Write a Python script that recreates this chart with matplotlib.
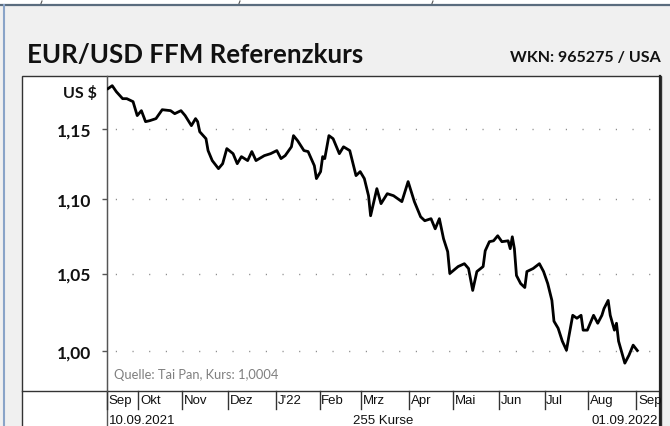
import matplotlib
matplotlib.use("Agg")
import matplotlib.pyplot as plt
import numpy as np
import pandas as pd
from matplotlib.patches import Rectangle
from matplotlib.lines import Line2D
from matplotlib.ticker import FixedLocator, NullLocator

# ---------------- data ----------------
title = "EUR/USD FFM Referenzkurs"
subtitle = "WKN: 965275 / USA"
source = "Quelle: Tai Pan, Kurs: 1,0004"
start_label = "10.09.2021"
end_label = "01.09.2022"
count_label = "255 Kurse"
n_quotes = 255

# trading-day number and EUR/USD reference rate
day = [0, 2, 4, 7, 9, 12, 14, 16, 18, 20, 23, 26, 30, 32, 35, 37, 40, 42, 43, 44,
       47, 48, 50, 53, 55, 57, 60, 62, 64, 67, 69, 71, 75, 78, 81, 83, 85, 88, 89, 91,
       94, 96, 99, 100, 102, 103, 104, 106, 108, 111, 113, 116, 119, 121, 123, 125, 126, 129, 131, 134,
       137, 141, 144, 147, 150, 152, 155, 157, 159, 161, 163, 164, 168, 171, 173, 175, 177, 180, 181, 183,
       185, 187, 189, 192, 193, 194, 195, 196, 198, 200, 201, 204, 207, 209, 211, 213, 214, 216, 218, 220,
       221, 223, 225, 227, 228, 230, 233, 235, 237, 238, 240, 241, 243, 244, 245, 248, 250, 252, 254]
rate = [1.1793, 1.1815, 1.1770, 1.1719, 1.1719, 1.1697, 1.1595, 1.1631, 1.1551, 1.1558,
        1.1573, 1.1638, 1.1631, 1.1609, 1.1631, 1.1595, 1.1522, 1.1573, 1.1551, 1.1478,
        1.1428, 1.1343, 1.1272, 1.1215, 1.1250, 1.1357, 1.1321, 1.1250, 1.1300, 1.1272,
        1.1336, 1.1272, 1.1307, 1.1321, 1.1343, 1.1286, 1.1307, 1.1370, 1.1450, 1.1413,
        1.1343, 1.1336, 1.1236, 1.1145, 1.1194, 1.1300, 1.1286, 1.1450, 1.1428, 1.1321,
        1.1370, 1.1343, 1.1166, 1.1194, 1.1145, 1.1026, 1.0888, 1.1075, 1.0971, 1.1040,
        1.1026, 1.0985, 1.1124, 1.0985, 1.0881, 1.0854, 1.0868, 1.0799, 1.0868, 1.0732,
        1.0645, 1.0500, 1.0546, 1.0565, 1.0533, 1.0389, 1.0513, 1.0546, 1.0651, 1.0712,
        1.0718, 1.0752, 1.0712, 1.0718, 1.0665, 1.0745, 1.0665, 1.0487, 1.0434, 1.0408,
        1.0513, 1.0533, 1.0565, 1.0513, 1.0434, 1.0324, 1.0190, 1.0145, 1.0063, 1.0006,
        1.0082, 1.0228, 1.0209, 1.0228, 1.0133, 1.0133, 1.0228, 1.0177, 1.0228, 1.0271,
        1.0324, 1.0228, 1.0133, 1.0177, 1.0063, 0.9925, 0.9975, 1.0038, 1.0004]

y_ticks = [1.00, 1.05, 1.10, 1.15]
y_tick_labels = ["1,00", "1,05", "1,10", "1,15"]
y_unit = "US $"
month_names = {1: "J'22", 2: "Feb", 3: "Mrz", 4: "Apr", 5: "Mai", 6: "Jun", 7: "Jul",
               8: "Aug", 9: "Sep", 10: "Okt", 11: "Nov", 12: "Dez"}

# ---------------- figure ----------------
W, H = 670, 427
fig = plt.figure(figsize=(W / 100, H / 100), dpi=100, facecolor="#f0f0f0")

# decoration layer in pixel coordinates
bg = fig.add_axes([0, 0, 1, 1], zorder=0)
bg.set_xlim(0, W)
bg.set_ylim(H, 0)
bg.axis("off")

# top strip from window above
bg.add_patch(Rectangle((0, 0), W, 5, facecolor="white", edgecolor="none"))
bg.add_line(Line2D([0, W], [5.5, 5.5], color="#5a6c7e", lw=1.6))
for xm in (42, 240, 433):
    bg.add_line(Line2D([xm, xm - 1], [2, 4.5], color="#555555", lw=0.8))
bg.add_line(Line2D([3.5, 3.5], [6, H], color="#8aa4c8", lw=1.5))

# white chart box
bg.add_patch(Rectangle((22, 77), 639, H - 77 + 5, facecolor="white",
                       edgecolor="#333333", lw=1.0))
bg.add_line(Line2D([22, 659], [392, 392], color="#333333", lw=1.0))
bg.add_line(Line2D([659.5, 659.5], [77, H], color="#222222", lw=1.6))
bg.add_line(Line2D([107, 107], [77, H], color="#555555", lw=1.0))

# titles
bg.text(27, 55, title, fontsize=18.6, fontweight="bold", family="Lato",
        ha="left", va="center", color="#111111")
bg.text(661, 58, subtitle, fontsize=11.5, fontweight="bold", family="Lato",
        ha="right", va="center", color="#111111")
bg.text(97, 93, y_unit, fontsize=11.5, fontweight="bold", family="Lato",
        ha="right", va="center", color="#111111")

# ---------------- plot area ----------------
x0, x1, y0, y1 = 107, 659, 77, 392
ax = fig.add_axes([x0 / W, 1 - y1 / H, (x1 - x0) / W, (y1 - y0) / H], zorder=2)
ax.patch.set_alpha(0)
ax.set_yscale("log")
ax.set_xlim(-0.5, 264.4)
ax.set_ylim(0.9753, 1.1887)
for s in ("top", "right", "bottom"):
    ax.spines[s].set_visible(False)
ax.spines["left"].set_color("#555555")
ax.yaxis.set_major_locator(FixedLocator(y_ticks))
ax.yaxis.set_minor_locator(NullLocator())
ax.set_yticklabels(y_tick_labels)
ax.tick_params(axis="y", length=3.5, width=1, color="#555555", pad=8)
for lab in ax.get_yticklabels():
    lab.set_fontfamily("Lato")
    lab.set_fontweight("bold")
    lab.set_fontsize(12.5)
    lab.set_color("#111111")
ax.set_xticks([])
for v in y_ticks:
    ax.axhline(v, color="#888888", lw=1.0, ls=(6, (0.8, 11.2)), zorder=1)

ax.plot(day, rate, color="black", lw=2.0, solid_joinstyle="round", zorder=3)

ax.text(0.012, 0.035, source, transform=ax.transAxes, fontsize=9.3,
        family="Lato", color="#7f7f7f", ha="left", va="bottom")

# month row from trading calendar
bdays = pd.bdate_range("2021-09-10", periods=n_quotes)
months = bdays.month
starts = [0] + [i for i in range(1, n_quotes) if months[i] != months[i - 1]]
tr = ax.get_xaxis_transform()
row_h = 18 / (y1 - y0)
for i in starts:
    ax.add_line(Line2D([i - 0.5, i - 0.5], [0, -row_h], transform=tr,
                       color="#333333", lw=1.0, clip_on=False))
    ax.text(i + 0.3, -row_h / 2, month_names[months[i]], transform=tr,
            fontsize=9.5, family=["Liberation Sans Narrow", "Liberation Sans"],
            ha="left", va="center", color="#111111", clip_on=False)

date_y = 421
bg.text(108.5, date_y, start_label, fontsize=9.5,
        family=["Liberation Sans Narrow", "Liberation Sans"], ha="left", va="center", color="#111111")
bg.text(383, date_y, count_label, fontsize=9.5,
        family=["Liberation Sans Narrow", "Liberation Sans"], ha="center", va="center", color="#111111")
bg.text(658, date_y, end_label, fontsize=9.5,
        family=["Liberation Sans Narrow", "Liberation Sans"], ha="right", va="center", color="#111111")

fig.savefig("out.png", dpi=100, facecolor=fig.get_facecolor())
